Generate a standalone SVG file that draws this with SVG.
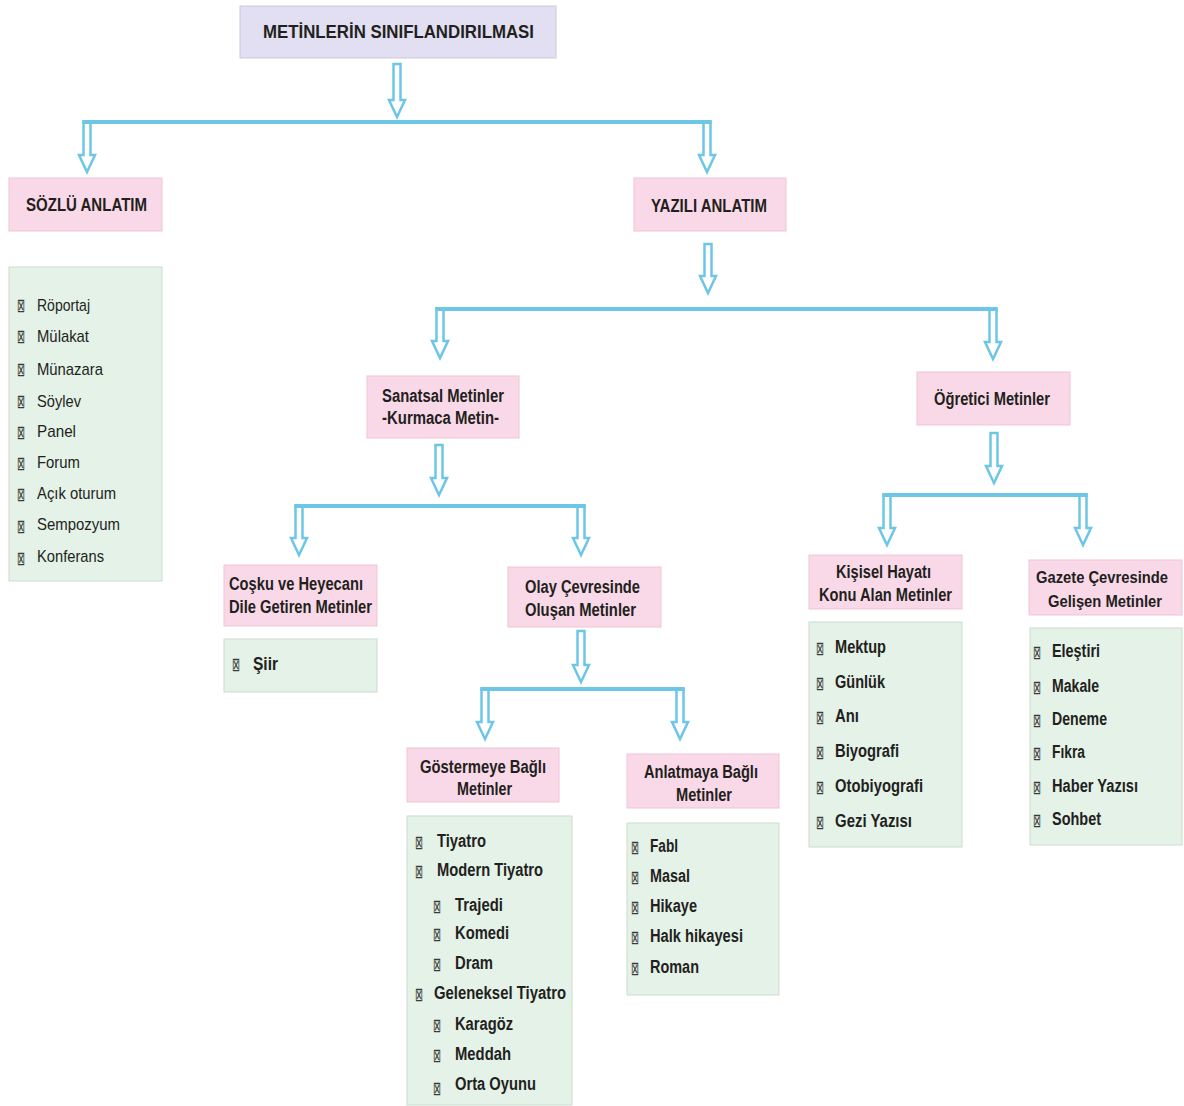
<svg xmlns="http://www.w3.org/2000/svg" width="1184" height="1106" viewBox="0 0 1184 1106">
<style>
.t{font-family:"Liberation Sans Narrow","Liberation Sans",Arial,sans-serif;font-size:18px;font-weight:bold;fill:#231F20}
.r{font-weight:normal;font-size:17px}
.s{font-size:16px}
.b{font-family:"DejaVu Sans",sans-serif;font-size:19px;fill:#3a3a3a}
.title{fill:#E1DFF1;stroke:#CCC8DE;stroke-width:1}
.pink{fill:#F9D9E7;stroke:#EFC6D6;stroke-width:1}
.green{fill:#E4F2E8;stroke:#C9DECE;stroke-width:1}
.line{fill:none;stroke:#6EC6E6;stroke-width:4}
.arr{fill:#fff;stroke:#6EC6E6;stroke-width:2.5;stroke-linejoin:miter}
</style>
<rect width="1184" height="1106" fill="#fff"/>
<g id="connectors">
<polygon class="arr" points="393.5,64 400.5,64 400.5,100 405,100 397,117 389,100 393.5,100"/>
<polygon class="arr" points="83.5,122 90.5,122 90.5,155 95,155 87,172 79,155 83.5,155"/>
<polygon class="arr" points="703.5,122 710.5,122 710.5,155 715,155 707,172 699,155 703.5,155"/>
<path class="line" d="M82.3,122 H711.7"/>
<polygon class="arr" points="704.5,244 711.5,244 711.5,276 716,276 708,293 700,276 704.5,276"/>
<polygon class="arr" points="436.5,309 443.5,309 443.5,341 448,341 440,358 432,341 436.5,341"/>
<polygon class="arr" points="989.5,309 996.5,309 996.5,342 1001,342 993,359 985,342 989.5,342"/>
<path class="line" d="M435.3,309 H997.7"/>
<polygon class="arr" points="435.5,445 442.5,445 442.5,478 447,478 439,495 431,478 435.5,478"/>
<polygon class="arr" points="295.5,506 302.5,506 302.5,538 307,538 299,555 291,538 295.5,538"/>
<polygon class="arr" points="577.5,506 584.5,506 584.5,538 589,538 581,555 573,538 577.5,538"/>
<path class="line" d="M294.3,506 H585.7"/>
<polygon class="arr" points="990.5,433 997.5,433 997.5,466 1002,466 994,483 986,466 990.5,466"/>
<polygon class="arr" points="883.5,495 890.5,495 890.5,528 895,528 887,545 879,528 883.5,528"/>
<polygon class="arr" points="1079.5,495 1086.5,495 1086.5,528 1091,528 1083,545 1075,528 1079.5,528"/>
<path class="line" d="M882.3,495 H1087.7"/>
<polygon class="arr" points="577.5,631 584.5,631 584.5,665 589,665 581,682 573,665 577.5,665"/>
<polygon class="arr" points="481.5,689 488.5,689 488.5,722 493,722 485,739 477,722 481.5,722"/>
<polygon class="arr" points="676.5,689 683.5,689 683.5,722 688,722 680,739 672,722 676.5,722"/>
<path class="line" d="M480.3,689 H684.7"/>
</g>
<g id="title">
<rect class="title" x="240" y="6" width="316" height="52"/>
<text class="t" x="263" y="38" textLength="271" lengthAdjust="spacingAndGlyphs">METİNLERİN SINIFLANDIRILMASI</text>
</g>
<g id="sozlu">
<rect class="pink" x="9" y="178" width="153" height="53"/>
<text class="t" x="26" y="211" textLength="121" lengthAdjust="spacingAndGlyphs">SÖZLÜ ANLATIM</text>
</g>
<g id="yazili">
<rect class="pink" x="634" y="178" width="152" height="53"/>
<text class="t" x="651" y="211.5" textLength="116" lengthAdjust="spacingAndGlyphs">YAZILI ANLATIM</text>
</g>
<g id="sozlu-list">
<rect class="green" x="9" y="267" width="153" height="314"/>
<text class="b" x="17" y="312" textLength="8" lengthAdjust="spacingAndGlyphs">⊠</text><text class="t r" x="37" y="311" textLength="53" lengthAdjust="spacingAndGlyphs">Röportaj</text>
<text class="b" x="17" y="343" textLength="8" lengthAdjust="spacingAndGlyphs">⊠</text><text class="t r" x="37" y="342" textLength="52" lengthAdjust="spacingAndGlyphs">Mülakat</text>
<text class="b" x="17" y="376" textLength="8" lengthAdjust="spacingAndGlyphs">⊠</text><text class="t r" x="37" y="375" textLength="66" lengthAdjust="spacingAndGlyphs">Münazara</text>
<text class="b" x="17" y="408" textLength="8" lengthAdjust="spacingAndGlyphs">⊠</text><text class="t r" x="37" y="407" textLength="44" lengthAdjust="spacingAndGlyphs">Söylev</text>
<text class="b" x="17" y="439" textLength="8" lengthAdjust="spacingAndGlyphs">⊠</text><text class="t r" x="37" y="437" textLength="39" lengthAdjust="spacingAndGlyphs">Panel</text>
<text class="b" x="17" y="470" textLength="8" lengthAdjust="spacingAndGlyphs">⊠</text><text class="t r" x="37" y="468" textLength="43" lengthAdjust="spacingAndGlyphs">Forum</text>
<text class="b" x="17" y="501" textLength="8" lengthAdjust="spacingAndGlyphs">⊠</text><text class="t r" x="37" y="499" textLength="79" lengthAdjust="spacingAndGlyphs">Açık oturum</text>
<text class="b" x="17" y="533" textLength="8" lengthAdjust="spacingAndGlyphs">⊠</text><text class="t r" x="37" y="530" textLength="83" lengthAdjust="spacingAndGlyphs">Sempozyum</text>
<text class="b" x="17" y="565" textLength="8" lengthAdjust="spacingAndGlyphs">⊠</text><text class="t r" x="37" y="562" textLength="67" lengthAdjust="spacingAndGlyphs">Konferans</text>
</g>
<g id="sanatsal">
<rect class="pink" x="367" y="376" width="152" height="62"/>
<text class="t" x="382" y="402" textLength="122" lengthAdjust="spacingAndGlyphs">Sanatsal Metinler</text>
<text class="t" x="382" y="424" textLength="117" lengthAdjust="spacingAndGlyphs">-Kurmaca Metin-</text>
</g>
<g id="ogretici">
<rect class="pink" x="917" y="372" width="153" height="53"/>
<text class="t" x="934" y="405" textLength="116" lengthAdjust="spacingAndGlyphs">Öğretici Metinler</text>
</g>
<g id="cosku">
<rect class="pink" x="224" y="565" width="153" height="61"/>
<text class="t" x="229" y="590" textLength="134" lengthAdjust="spacingAndGlyphs">Coşku ve Heyecanı</text>
<text class="t" x="229" y="613" textLength="143" lengthAdjust="spacingAndGlyphs">Dile Getiren Metinler</text>
</g>
<g id="siir">
<rect class="green" x="224" y="639" width="153" height="53"/>
<text class="b" x="232" y="671" textLength="8" lengthAdjust="spacingAndGlyphs">⊠</text><text class="t" x="253" y="670" textLength="25" lengthAdjust="spacingAndGlyphs">Şiir</text>
</g>
<g id="olay">
<rect class="pink" x="508" y="567" width="153" height="60"/>
<text class="t" x="525" y="593" textLength="115" lengthAdjust="spacingAndGlyphs">Olay Çevresinde</text>
<text class="t" x="525" y="616" textLength="111" lengthAdjust="spacingAndGlyphs">Oluşan Metinler</text>
</g>
<g id="gosterme">
<rect class="pink" x="407" y="748" width="152" height="54"/>
<text class="t" x="420" y="773" textLength="126" lengthAdjust="spacingAndGlyphs">Göstermeye Bağlı</text>
<text class="t" x="457" y="795" textLength="55" lengthAdjust="spacingAndGlyphs">Metinler</text>
</g>
<g id="gosterme-list">
<rect class="green" x="407" y="816" width="165" height="289"/>
<text class="b" x="415" y="849" textLength="8" lengthAdjust="spacingAndGlyphs">⊠</text><text class="t" x="437" y="847" textLength="49" lengthAdjust="spacingAndGlyphs">Tiyatro</text>
<text class="b" x="415" y="878" textLength="8" lengthAdjust="spacingAndGlyphs">⊠</text><text class="t" x="437" y="876" textLength="106" lengthAdjust="spacingAndGlyphs">Modern Tiyatro</text>
<text class="b" x="433" y="913" textLength="8" lengthAdjust="spacingAndGlyphs">⊠</text><text class="t" x="455" y="911" textLength="48" lengthAdjust="spacingAndGlyphs">Trajedi</text>
<text class="b" x="433" y="941" textLength="8" lengthAdjust="spacingAndGlyphs">⊠</text><text class="t" x="455" y="939" textLength="54" lengthAdjust="spacingAndGlyphs">Komedi</text>
<text class="b" x="433" y="971" textLength="8" lengthAdjust="spacingAndGlyphs">⊠</text><text class="t" x="455" y="969" textLength="38" lengthAdjust="spacingAndGlyphs">Dram</text>
<text class="b" x="415" y="1001" textLength="8" lengthAdjust="spacingAndGlyphs">⊠</text><text class="t" x="434" y="999" textLength="132" lengthAdjust="spacingAndGlyphs">Geleneksel Tiyatro</text>
<text class="b" x="433" y="1032" textLength="8" lengthAdjust="spacingAndGlyphs">⊠</text><text class="t" x="455" y="1030" textLength="58" lengthAdjust="spacingAndGlyphs">Karagöz</text>
<text class="b" x="433" y="1062" textLength="8" lengthAdjust="spacingAndGlyphs">⊠</text><text class="t" x="455" y="1060" textLength="56" lengthAdjust="spacingAndGlyphs">Meddah</text>
<text class="b" x="433" y="1095" textLength="8" lengthAdjust="spacingAndGlyphs">⊠</text><text class="t" x="455" y="1090" textLength="81" lengthAdjust="spacingAndGlyphs">Orta Oyunu</text>
</g>
<g id="anlatma">
<rect class="pink" x="627" y="754" width="152" height="54"/>
<text class="t" x="644" y="778" textLength="114" lengthAdjust="spacingAndGlyphs">Anlatmaya Bağlı</text>
<text class="t" x="676" y="801" textLength="56" lengthAdjust="spacingAndGlyphs">Metinler</text>
</g>
<g id="anlatma-list">
<rect class="green" x="627" y="823" width="152" height="172"/>
<text class="b" x="631" y="854" textLength="8" lengthAdjust="spacingAndGlyphs">⊠</text><text class="t" x="650" y="852" textLength="28" lengthAdjust="spacingAndGlyphs">Fabl</text>
<text class="b" x="631" y="884" textLength="8" lengthAdjust="spacingAndGlyphs">⊠</text><text class="t" x="650" y="882" textLength="40" lengthAdjust="spacingAndGlyphs">Masal</text>
<text class="b" x="631" y="914" textLength="8" lengthAdjust="spacingAndGlyphs">⊠</text><text class="t" x="650" y="912" textLength="47" lengthAdjust="spacingAndGlyphs">Hikaye</text>
<text class="b" x="631" y="944" textLength="8" lengthAdjust="spacingAndGlyphs">⊠</text><text class="t" x="650" y="942" textLength="93" lengthAdjust="spacingAndGlyphs">Halk hikayesi</text>
<text class="b" x="631" y="975" textLength="8" lengthAdjust="spacingAndGlyphs">⊠</text><text class="t" x="650" y="973" textLength="49" lengthAdjust="spacingAndGlyphs">Roman</text>
</g>
<g id="kisisel">
<rect class="pink" x="809" y="555" width="153" height="54"/>
<text class="t" x="836" y="578" textLength="95" lengthAdjust="spacingAndGlyphs">Kişisel Hayatı</text>
<text class="t" x="819" y="601" textLength="133" lengthAdjust="spacingAndGlyphs">Konu Alan Metinler</text>
</g>
<g id="kisisel-list">
<rect class="green" x="809" y="622" width="153" height="225"/>
<text class="b" x="816" y="655" textLength="8" lengthAdjust="spacingAndGlyphs">⊠</text><text class="t" x="835" y="653" textLength="51" lengthAdjust="spacingAndGlyphs">Mektup</text>
<text class="b" x="816" y="690" textLength="8" lengthAdjust="spacingAndGlyphs">⊠</text><text class="t" x="835" y="688" textLength="50" lengthAdjust="spacingAndGlyphs">Günlük</text>
<text class="b" x="816" y="724" textLength="8" lengthAdjust="spacingAndGlyphs">⊠</text><text class="t" x="835" y="722" textLength="24" lengthAdjust="spacingAndGlyphs">Anı</text>
<text class="b" x="816" y="759" textLength="8" lengthAdjust="spacingAndGlyphs">⊠</text><text class="t" x="835" y="757" textLength="64" lengthAdjust="spacingAndGlyphs">Biyografi</text>
<text class="b" x="816" y="794" textLength="8" lengthAdjust="spacingAndGlyphs">⊠</text><text class="t" x="835" y="792" textLength="88" lengthAdjust="spacingAndGlyphs">Otobiyografi</text>
<text class="b" x="816" y="829" textLength="8" lengthAdjust="spacingAndGlyphs">⊠</text><text class="t" x="835" y="827" textLength="77" lengthAdjust="spacingAndGlyphs">Gezi Yazısı</text>
</g>
<g id="gazete">
<rect class="pink" x="1029" y="560" width="153" height="55"/>
<text class="t s" x="1102" y="583" text-anchor="middle" textLength="132" lengthAdjust="spacingAndGlyphs">Gazete Çevresinde</text>
<text class="t s" x="1105" y="607" text-anchor="middle" textLength="114" lengthAdjust="spacingAndGlyphs">Gelişen Metinler</text>
</g>
<g id="gazete-list">
<rect class="green" x="1030" y="628" width="152" height="217"/>
<text class="b" x="1033" y="659" textLength="8" lengthAdjust="spacingAndGlyphs">⊠</text><text class="t" x="1052" y="657" textLength="48" lengthAdjust="spacingAndGlyphs">Eleştiri</text>
<text class="b" x="1033" y="694" textLength="8" lengthAdjust="spacingAndGlyphs">⊠</text><text class="t" x="1052" y="692" textLength="47" lengthAdjust="spacingAndGlyphs">Makale</text>
<text class="b" x="1033" y="727" textLength="8" lengthAdjust="spacingAndGlyphs">⊠</text><text class="t" x="1052" y="725" textLength="55" lengthAdjust="spacingAndGlyphs">Deneme</text>
<text class="b" x="1033" y="760" textLength="8" lengthAdjust="spacingAndGlyphs">⊠</text><text class="t" x="1052" y="758" textLength="33" lengthAdjust="spacingAndGlyphs">Fıkra</text>
<text class="b" x="1033" y="794" textLength="8" lengthAdjust="spacingAndGlyphs">⊠</text><text class="t" x="1052" y="792" textLength="86" lengthAdjust="spacingAndGlyphs">Haber Yazısı</text>
<text class="b" x="1033" y="827" textLength="8" lengthAdjust="spacingAndGlyphs">⊠</text><text class="t" x="1052" y="825" textLength="49" lengthAdjust="spacingAndGlyphs">Sohbet</text>
</g>
</svg>
